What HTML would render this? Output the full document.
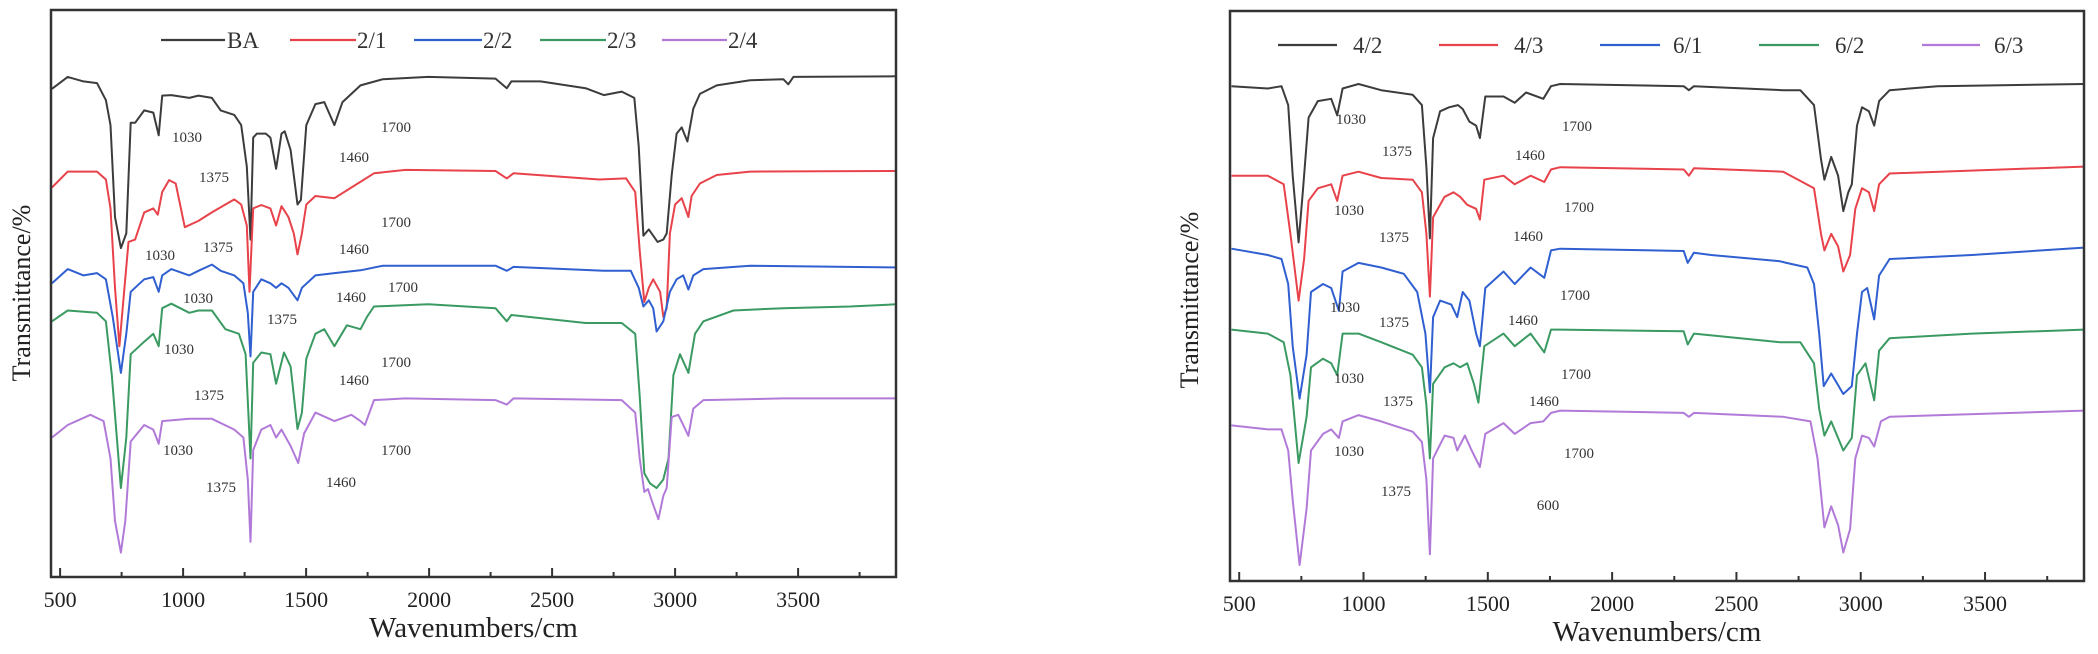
<!DOCTYPE html>
<html><head><meta charset="utf-8"><style>
html,body{margin:0;padding:0;background:#fff;}
svg{display:block;font-family:"Liberation Serif",serif;}
</style></head><body>
<svg id="fig" width="2098" height="654" viewBox="0 0 2098 654" xmlns="http://www.w3.org/2000/svg"></svg>
<script>
const xTicks=[500,1000,1500,2000,2500,3000,3500];
const xTickLabels=["500","1000","1500","2000","2500","3000","3500"];
const xMinor=[750,1250,1750,2250,2750,3250,3750];
const xDomain=[463,3898];
const yDomain=[0,100];

const leftNames=["BA","2/1","2/2","2/3","2/4"];
const rightNames=["4/2","4/3","6/1","6/2","6/3"];
const colors=["#3c3c3c","#e8424a","#2f5fd0","#3a9a62","#b27ad8"];

const sBA=[[467,86.1],[531,88.2],[595,87.4],[650,87.1],[686,84.1],[705,79.7],[723,63.5],[747,58.0],[769,60.6],[787,80.1],[805,80.1],[842,82.3],[879,81.9],[901,77.9],[915,84.9],[952,85.0],[1025,84.5],[1062,84.9],[1117,84.5],[1153,82.3],[1208,81.5],[1236,79.7],[1259,72.4],[1274,59.5],[1285,77.5],[1300,78.2],[1336,78.2],[1355,77.5],[1378,72.0],[1400,78.2],[1413,78.6],[1437,75.3],[1465,65.7],[1479,66.5],[1501,79.7],[1538,83.4],[1574,83.75],[1615,79.7],[1648,83.75],[1721,86.7],[1812,87.8],[1996,88.2],[2270,87.9],[2316,86.2],[2334,87.4],[2453,87.4],[2636,86.2],[2710,85.0],[2783,85.6],[2834,84.5],[2852,76.0],[2871,60.2],[2893,61.3],[2929,59.1],[2952,59.5],[2966,60.6],[2986,70.9],[3006,78.2],[3027,79.3],[3050,76.8],[3074,82.6],[3101,85.2],[3169,86.7],[3305,87.6],[3440,87.8],[3460,86.9],[3481,88.2],[3898,88.3]];
const s21=[[467,68.7],[531,71.5],[650,71.5],[686,70.1],[705,65.0],[723,51.0],[741,40.7],[760,50.3],[778,59.1],[805,59.5],[842,64.3],[879,65.0],[897,63.9],[915,67.9],[943,70.0],[970,69.4],[1007,61.7],[1062,62.8],[1117,64.3],[1172,65.7],[1208,66.6],[1236,65.7],[1259,62],[1270,50.3],[1285,65],[1318,65.6],[1355,65],[1378,62],[1400,65.4],[1428,63.5],[1450,60.6],[1465,56.9],[1483,60.6],[1501,65.7],[1538,67.2],[1615,66.8],[1684,68.7],[1776,71.2],[1904,71.8],[2270,71.6],[2316,70.3],[2343,71.2],[2691,70.1],[2801,70.3],[2838,67.9],[2856,57.6],[2875,48.5],[2893,51.0],[2911,52.5],[2939,50.3],[2952,45.9],[2966,47.4],[2979,60.6],[3000,65.7],[3027,66.8],[3054,63.5],[3067,67.2],[3101,69.4],[3169,70.9],[3305,71.5],[3898,71.6]];
const s22=[[467,51.8],[531,54.3],[595,53.2],[650,53.6],[686,52.5],[714,45.9],[747,36.0],[769,42.9],[787,50.3],[842,52.5],[879,52.9],[901,50.3],[915,53.2],[952,54.3],[1025,53.2],[1062,54.0],[1117,55.1],[1153,54.0],[1208,53.2],[1245,51.8],[1263,46.6],[1274,38.9],[1285,50.3],[1318,52.5],[1355,51.8],[1378,51.0],[1400,51.8],[1428,51.0],[1465,48.8],[1483,51.0],[1538,53.2],[1615,53.6],[1721,54.1],[1812,54.9],[2270,54.9],[2316,54.0],[2343,54.7],[2710,54.0],[2820,54.0],[2852,51.0],[2871,47.7],[2893,48.8],[2911,47.4],[2925,43.3],[2952,45.1],[2979,50.3],[3006,52.5],[3033,53.2],[3054,50.7],[3074,53.2],[3115,54.3],[3305,54.9],[3898,54.6]];
const s23=[[467,45.1],[531,47.0],[650,46.6],[686,45.1],[710,35.6],[747,15.7],[769,24.6],[787,39.3],[842,41.5],[879,42.9],[901,40.7],[915,47.4],[952,48.2],[1025,46.6],[1062,47.0],[1117,47.0],[1172,43.7],[1227,42.9],[1254,39.3],[1274,20.9],[1285,37.8],[1318,39.6],[1355,39.3],[1378,34.1],[1410,39.6],[1437,37.1],[1465,26.1],[1483,29.0],[1501,38.5],[1538,42.9],[1574,43.7],[1615,40.7],[1666,44.4],[1721,43.7],[1748,45.9],[1776,47.7],[1996,48.1],[2270,47.4],[2316,45.1],[2334,46.2],[2636,44.8],[2783,44.8],[2838,42.9],[2856,31.9],[2875,18.3],[2898,16.5],[2925,15.7],[2952,17.2],[2973,20.9],[2993,35.6],[3020,39.3],[3054,36.0],[3081,42.9],[3115,45.1],[3237,47.0],[3440,47.4],[3711,47.7],[3898,48.1]];
const s24=[[467,24.6],[531,26.8],[623,28.6],[677,27.5],[705,20.9],[723,9.9],[747,4.3],[765,9.9],[787,23.9],[842,26.8],[879,26.0],[901,23.5],[915,27.5],[1025,27.9],[1117,27.9],[1208,26.0],[1245,24.6],[1263,17.2],[1274,6.2],[1285,22.4],[1318,26.0],[1355,26.8],[1378,24.6],[1400,26.0],[1437,23.1],[1468,20.1],[1492,25.3],[1538,29.0],[1615,27.5],[1684,28.6],[1721,27.5],[1739,26.8],[1776,31.2],[1904,31.5],[2270,31.2],[2316,30.4],[2343,31.5],[2783,31.2],[2838,29.0],[2856,20.9],[2875,15.0],[2890,15.5],[2905,13.5],[2932,10.2],[2952,14.3],[2966,15.7],[2986,28.2],[3013,28.6],[3054,24.9],[3074,29.7],[3115,31.2],[3440,31.5],[3898,31.5]];

const s42=[[469,86.8],[615,86.4],[670,86.8],[697,83.5],[715,71.1],[739,59.4],[757,68.9],[779,81.3],[816,84.2],[870,84.6],[894,81.7],[916,86.4],[980,87.2],[1071,86.1],[1198,85.3],[1235,83.5],[1253,72.6],[1267,60.1],[1280,77.7],[1308,82.4],[1344,83.1],[1380,83.5],[1399,82.8],[1426,80.6],[1453,79.9],[1468,77.7],[1490,85.0],[1563,85.0],[1608,83.9],[1654,85.7],[1723,84.6],[1754,86.8],[1791,87.2],[2288,86.8],[2309,86.1],[2329,86.8],[2688,86.1],[2757,86.1],[2812,83.5],[2840,74.0],[2854,70.4],[2881,74.4],[2909,71.1],[2930,64.9],[2950,68.2],[2964,69.6],[2985,79.9],[3005,83.1],[3033,82.4],[3054,79.9],[3074,84.2],[3116,86.1],[3309,86.8],[3898,87.2]];
const s43=[[469,71.1],[615,71.1],[679,69.6],[706,60.9],[739,49.2],[761,56.5],[779,66.7],[816,68.9],[870,69.6],[894,66.7],[916,71.1],[980,71.8],[1071,70.7],[1198,70.4],[1235,68.2],[1253,60.9],[1267,49.9],[1280,63.8],[1326,67.4],[1362,68.2],[1389,67.4],[1417,66.0],[1453,65.3],[1468,63.4],[1486,70.4],[1563,71.1],[1608,69.6],[1672,71.1],[1727,70.0],[1754,72.2],[1791,72.6],[2288,72.2],[2309,71.1],[2329,72.4],[2688,71.8],[2812,68.9],[2840,60.9],[2854,58.0],[2881,60.9],[2909,58.7],[2930,54.3],[2957,57.2],[2978,65.3],[3005,68.9],[3033,68.2],[3054,64.9],[3074,69.6],[3116,71.5],[3898,72.7]];
const s61=[[469,58.3],[615,57.2],[670,56.5],[697,52.1],[715,41.2],[743,32.0],[771,39.7],[789,50.7],[837,52.1],[870,51.4],[901,47.4],[916,54.3],[980,55.8],[1071,55.0],[1162,53.9],[1216,50.7],[1249,43.4],[1267,33.1],[1280,46.3],[1308,49.2],[1353,48.5],[1377,46.3],[1399,50.7],[1426,49.2],[1453,43.4],[1468,41.2],[1490,51.4],[1563,54.3],[1608,52.1],[1672,55.0],[1727,53.2],[1754,58.0],[1791,58.3],[2288,57.9],[2304,55.8],[2329,57.6],[2398,57.2],[2674,56.1],[2701,55.8],[2785,55.0],[2812,52.1],[2833,43.4],[2851,34.2],[2881,36.4],[2930,32.8],[2964,34.2],[2985,43.4],[3005,50.7],[3026,51.4],[3054,45.9],[3074,53.6],[3116,56.5],[3447,57.2],[3898,58.5]];
const s62=[[469,44.1],[615,43.4],[679,41.9],[706,36.1],[739,20.7],[771,28.8],[789,37.5],[837,39.0],[870,38.2],[894,36.1],[916,43.4],[980,43.4],[1071,41.9],[1198,39.7],[1235,37.5],[1253,30.9],[1267,21.5],[1280,34.6],[1326,37.5],[1362,38.2],[1389,37.5],[1417,38.2],[1444,34.6],[1462,31.3],[1486,41.2],[1563,43.4],[1608,41.2],[1672,43.4],[1727,40.1],[1754,44.1],[1791,44.1],[2288,43.8],[2304,41.5],[2329,43.4],[2674,41.9],[2757,41.9],[2812,38.2],[2833,30.2],[2854,25.5],[2881,28.0],[2930,22.9],[2964,25.1],[2985,36.1],[3019,38.2],[3054,31.7],[3074,40.4],[3116,42.6],[3447,43.4],[3898,44.1]];
const s63=[[469,27.3],[615,26.6],[670,26.6],[697,22.9],[715,14.2],[743,2.8],[771,12.7],[789,22.9],[837,25.8],[870,26.6],[901,25.1],[916,28.0],[980,29.1],[1071,28.0],[1198,26.2],[1235,24.4],[1253,17.8],[1267,4.7],[1280,21.5],[1326,25.5],[1362,25.1],[1377,22.9],[1408,25.5],[1435,22.9],[1468,20.0],[1490,25.8],[1563,27.7],[1608,25.8],[1672,27.7],[1723,28.0],[1754,29.5],[1791,29.9],[2288,29.5],[2309,28.8],[2329,29.5],[2688,28.8],[2798,28.0],[2826,21.5],[2854,9.4],[2881,13.1],[2909,9.8],[2930,5.0],[2957,9.1],[2978,21.5],[3005,25.5],[3033,25.1],[3054,23.6],[3081,28.0],[3116,28.8],[3898,29.9]];

const leftSeries=[sBA,s21,s22,s23,s24];
const rightSeries=[s42,s43,s61,s62,s63];

const leftAnnot=[["1030",187,142],["1700",396,132],["1375",214,182],["1460",354,162],["1700",396,227],["1030",160,260],["1375",218,252],["1460",354,254],["1700",403,292],["1030",198,303],["1375",282,324],["1460",351,302],["1030",179,354],["1700",396,367],["1375",209,400],["1460",354,385],["1030",178,455],["1700",396,455],["1375",221,492],["1460",341,487]];
const rightAnnot=[["1030",1351,124],["1700",1577,131],["1375",1397,156],["1460",1530,160],["1030",1349,215],["1700",1579,212],["1375",1394,242],["1460",1528,241],["1030",1345,312],["1700",1575,300],["1375",1394,327],["1460",1523,325],["1030",1349,383],["1700",1576,379],["1375",1398,406],["1460",1544,406],["1030",1349,456],["1700",1579,458],["1375",1396,496],["600",1548,510]];

const NS="http://www.w3.org/2000/svg";
const svg=document.getElementById('fig');
function mk(tag,attrs,parent){const e=document.createElementNS(NS,tag);for(const k in attrs)e.setAttribute(k,attrs[k]);(parent||svg).appendChild(e);return e;}

function drawChart(cfg){
  const g=mk('g',{});
  
  
  const L=cfg.left,R=cfg.right,T=cfg.top,B=cfg.bottom;
  const sx=v=>L+(v-xDomain[0])/(xDomain[1]-xDomain[0])*(R-L);
  const sy=v=>B-(v-yDomain[0])/(yDomain[1]-yDomain[0])*(B-T);
  // series
  cfg.series.forEach((s,i)=>{
    const d=s.map((p,j)=>(j?'L':'M')+sx(p[0]).toFixed(1)+' '+sy(p[1]).toFixed(1)).join(' ');
    const p=mk('path',{d:d,fill:'none',stroke:colors[i],'stroke-width':2,'stroke-linejoin':'round'},g);
    
    
  });
  // annotations
  cfg.annot.forEach(a=>{
    const t=mk('text',{x:a[1],y:a[2],'font-size':15,fill:'#333','text-anchor':'middle'},g);
    t.textContent=a[0];
    
    
  });
  // frame
  const fr=mk('rect',{x:L,y:T,width:R-L,height:B-T,fill:'none',stroke:'#333','stroke-width':2.5},g);
  
  
  xTicks.forEach((v,i)=>{
    const x=sx(v);
    const tk=mk('line',{x1:x,x2:x,y1:B,y2:B-9,stroke:'#333','stroke-width':2},g);
    
    
    const lb=mk('text',{x:x,y:B+30,'font-size':22,fill:'#222','text-anchor':'middle'},g);
    lb.textContent=xTickLabels[i];
    
    
  });
  xMinor.forEach(v=>{
    const x=sx(v);
    const tk=mk('line',{x1:x,x2:x,y1:B,y2:B-5,stroke:'#333','stroke-width':2},g);
    
    
  });
  const xt=mk('text',{x:(L+R)/2,y:B+60,'font-size':29,fill:'#222','text-anchor':'middle'},g);
  xt.textContent='Wavenumbers/cm';
  
  
  const yt=mk('text',{x:0,y:0,'font-size':26,fill:'#222','text-anchor':'middle',transform:`translate(${cfg.ytx},${cfg.yty}) rotate(-90)`},g);
  yt.textContent='Transmittance/%';
  
  
  // legend
  cfg.legend.forEach((le,i)=>{
    const lg=mk('g',{},g);
    
    
    mk('line',{x1:le[0],x2:le[1],y1:cfg.legY,y2:cfg.legY,stroke:colors[i],'stroke-width':2.2},lg);
    const t=mk('text',{x:le[2],y:cfg.legY+8,'font-size':23,fill:'#333'},lg);
    t.textContent=cfg.names[i];
  });
}

drawChart({name:'left-chart',left:51,right:896,top:10,bottom:577,series:leftSeries,names:leftNames,annot:leftAnnot,
  ytx:30,yty:293,legY:40,legend:[[161,225,227],[290,356,357],[414,482,483],[540,606,607],[662,727,728]]});
drawChart({name:'right-chart',left:1230,right:2084,top:11,bottom:581,series:rightSeries,names:rightNames,annot:rightAnnot,
  ytx:1198,yty:300,legY:45,legend:[[1278,1337,1353],[1439,1498,1514],[1600,1660,1673],[1759,1819,1835],[1922,1980,1994]]});
</script>
</body></html>
